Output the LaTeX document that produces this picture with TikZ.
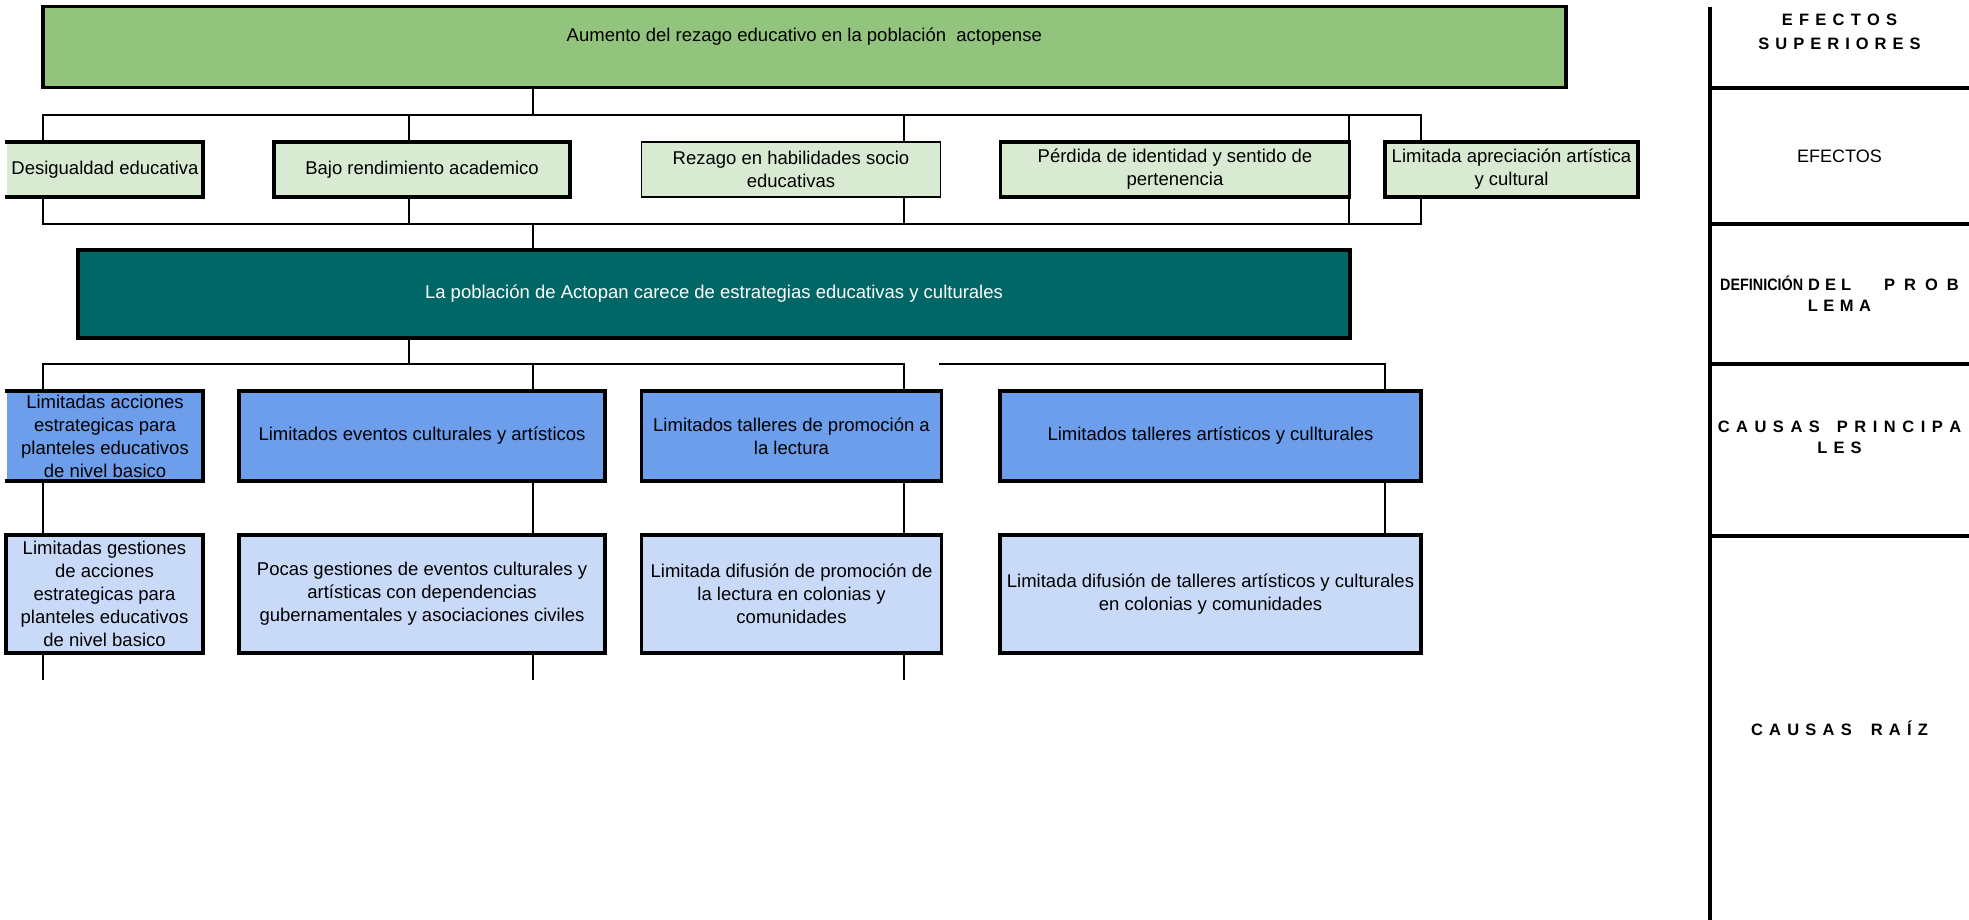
\documentclass[tikz,border=0pt]{standalone}
\usepackage{graphicx}
\usepackage{fontspec}
\setmainfont{Liberation Sans}
\definecolor{topgreen}{HTML}{93C47D}
\definecolor{effgreen}{HTML}{D9EAD3}
\definecolor{probteal}{HTML}{006666}
\definecolor{causeblue}{HTML}{6D9EEB}
\definecolor{rootblue}{HTML}{C9DAF8}
\begin{document}
\begin{tikzpicture}[x=1pt,y=-1pt,
  box/.style={rectangle, draw=black, line width=3.5pt, inner xsep=1pt, inner ysep=0pt, align=center, font={\fontsize{18.5}{23}\selectfont}, text=black},
  thinbox/.style={box, line width=1.5pt},
  openbox/.style={box, draw=none, outer sep=0pt},
  edgethree/.style={line width=3.5pt, line cap=rect},
  conn/.style={line width=2pt, line cap=rect},
  panel/.style={line width=4pt},
  labb/.style={anchor=base, inner sep=0pt, font={\fontsize{16.5}{20}\selectfont\bfseries\spaceskip=#1\relax}},
  labb/.default=6pt,
  labr/.style={anchor=base, inner sep=0pt, font={\fontsize{18}{22}\selectfont}},
]
\useasboundingbox (0,0) rectangle (1969,920);

% ---- top effect
\node[box, fill=topgreen, minimum width=1523pt, minimum height=81pt] (top) at (804.3,47) {};
\node[anchor=base, inner sep=0pt, font={\fontsize{18.5}{23}\selectfont}] (toptext) at (804.3,42) {Aumento del rezago educativo en la población\ \ actopense};

% ---- effects
\node[openbox, fill=effgreen, minimum width=196pt, minimum height=55pt] (desig) at (105,169.5) {Desigualdad educativa};
\draw[edgethree] (desig.north west) -- (desig.north east) -- (desig.south east) -- (desig.south west);
\node[box, fill=effgreen, minimum width=296pt, minimum height=55pt] (bajo) at (422,169.5) {Bajo rendimiento academico};
\node[thinbox, fill=effgreen, minimum width=299pt, minimum height=55pt] (rezago) at (791,169.5) {Rezago en habilidades socio\\educativas};
\node[box, fill=effgreen, minimum width=349pt, minimum height=55pt] (perdida) at (1175,169.5) {Pérdida de identidad y sentido de\\pertenencia};
\node[box, fill=effgreen, minimum width=253pt, minimum height=55pt] (limap) at (1511.5,169.5) {Limitada apreciación artística\\y cultural};

% ---- problem
\node[box, fill=probteal, text=white, minimum width=1272pt, minimum height=88pt] (teal) at (714,294) {La población de Actopan carece de estrategias educativas y culturales};

% ---- main causes
\node[openbox, fill=causeblue, minimum width=196pt, minimum height=90pt] (limacc) at (105,436) {Limitadas acciones\\estrategicas para\\planteles educativos\\de nivel basico};
\draw[edgethree] (limacc.north west) -- (limacc.north east) -- (limacc.south east) -- (limacc.south west);
\node[box, fill=causeblue, minimum width=366pt, minimum height=90pt] (eventos) at (422,436) {Limitados eventos culturales y artísticos};
\node[box, fill=causeblue, minimum width=300pt, minimum height=90pt] (lectura) at (791.5,436) {Limitados talleres de promoción a\\la lectura};
\node[box, fill=causeblue, minimum width=421pt, minimum height=90pt] (artist) at (1210.5,436) {Limitados talleres artísticos y cullturales};

% ---- root causes
\node[box, fill=rootblue, minimum width=197pt, minimum height=118pt] (gest) at (104.5,594) {Limitadas gestiones\\de acciones\\estrategicas para\\planteles educativos\\de nivel basico};
\node[box, fill=rootblue, minimum width=366pt, minimum height=118pt] (pocas) at (422,594) {Pocas gestiones de eventos culturales y\\artísticas con dependencias\\gubernamentales y asociaciones civiles};
\node[box, fill=rootblue, minimum width=300pt, minimum height=118pt] (diflec) at (791.5,594) {Limitada difusión de promoción de\\la lectura en colonias y\\comunidades};
\node[box, fill=rootblue, minimum width=421pt, minimum height=118pt] (diftal) at (1210.5,594) {Limitada difusión de talleres artísticos y culturales\\en colonias y comunidades};

% ---- connector coordinates
\coordinate (busA) at (0,115.5);
\coordinate (busB) at (0,223.5);
\coordinate (busC) at (0,363.5);
\coordinate (stub) at (0,679);
\coordinate (xa) at (42.5,0);
\coordinate (xb) at (408.5,0);
\coordinate (xc) at (532.5,0);
\coordinate (xd) at (904,0);
\coordinate (xe) at (1348.5,0);
\coordinate (xf) at (1421,0);
\coordinate (xg) at (940,0);
\coordinate (xh) at (1385,0);

\draw[conn] (top.south -| xc) -- (busA -| xc);
\draw[conn] (busA -| xa) -- (busA -| xf);
\foreach \n/\x in {desig/xa, bajo/xb, rezago/xd, perdida/xe, limap/xf} {
  \draw[conn] (busA -| \x) -- (\n.north -| \x);
  \draw[conn] (\n.south -| \x) -- (busB -| \x);
}
\draw[conn] (busB -| xa) -- (busB -| xf);
\draw[conn] (busB -| xc) -- (teal.north -| xc);
\draw[conn] (teal.south -| xb) -- (busC -| xb);
\draw[conn] (busC -| xa) -- (busC -| xd);
\draw[conn] (busC -| xg) -- (busC -| xh);
\foreach \c/\r/\x in {limacc/gest/xa, eventos/pocas/xc, lectura/diflec/xd, artist/diftal/xh} {
  \draw[conn] (busC -| \x) -- (\c.north -| \x);
  \draw[conn] (\c.south -| \x) -- (\r.north -| \x);
}
\foreach \r/\x in {gest/xa, pocas/xc, diflec/xd} {
  \draw[conn] (\r.south -| \x) -- (stub -| \x);
}

% ---- right panel
\draw[panel] (1710,7) -- (1710,920);
\foreach \y in {88,224,364,536} {
  \draw[panel] (1710,\y) -- (1969,\y);
}
\node[labb=6.2pt] (l1a) at (1839.5,25.7) {E F E C T O S};
\node[labb=6pt] (l1b) at (1839.5,50) {S U P E R I O R E S};
\node[labr] (l2) at (1839.5,163) {EFECTOS};
\node[labb=5pt] (l3a) at (1839.5,290) {\scalebox{0.87}[1]{DEFINICIÓN} D E L\hspace{33pt}P\hspace{9pt}R\hspace{9pt}O\hspace{9pt}B};
\node[labb=5.5pt] (l3b) at (1839.5,311) {L E M A};
\node[labb=6.5pt] (l4a) at (1839.5,432) {C A U S A S\hspace{17pt}P R I N C I P A};
\node[labb=6pt] (l4b) at (1839.5,453) {L E S};
\node[labb=6.2pt] (l5) at (1839.5,735) {C A U S A S\hspace{19pt}R A Í Z};
\end{tikzpicture}
\end{document}
